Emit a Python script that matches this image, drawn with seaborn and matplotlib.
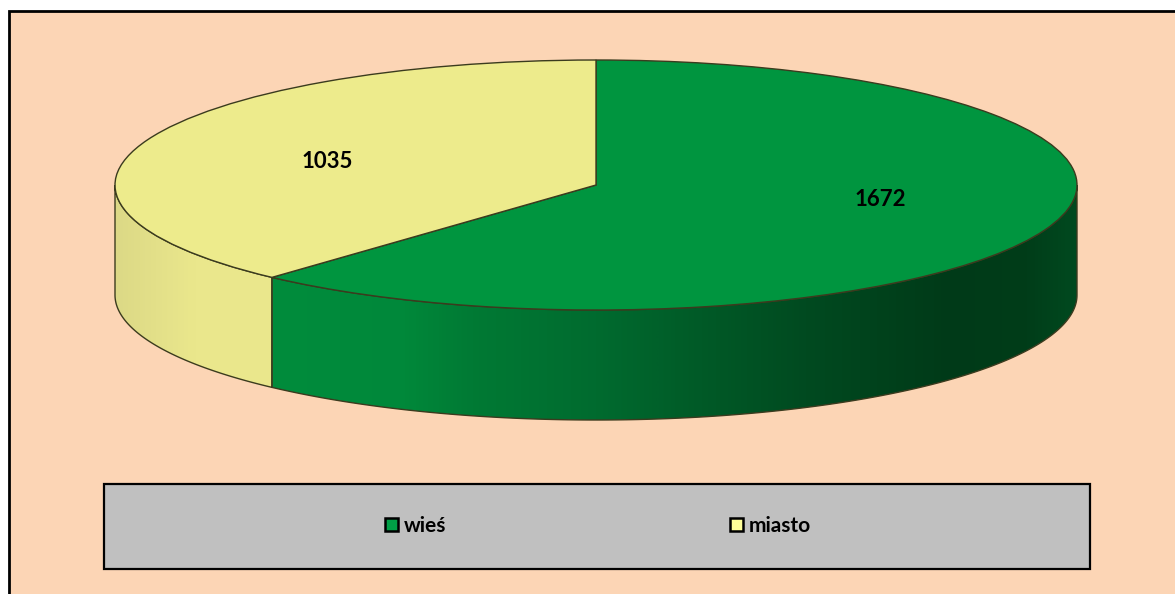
import numpy as np
import matplotlib
matplotlib.use("Agg")
import matplotlib.pyplot as plt
import seaborn as sns
from matplotlib.patches import Rectangle, Polygon, Patch
from matplotlib.colors import LinearSegmentedColormap

# ---- data ----
categories = ["wieś", "miasto"]
values = [1672, 1035]
value_labels = [str(v) for v in values]

# ---- styles ----
top_colors = ["#00953F", "#EDEB8C"]
legend_colors = ["#00A046", "#FFFF99"]
side_stops = [
    [(0.0, "#00A046"), (0.163, "#008C3C"), (0.30, "#00883A"), (0.37, "#007A34"),
     (0.50, "#006B2F"), (0.61, "#005A27"), (0.72, "#004A20"), (0.87, "#003A18"),
     (0.95, "#003D19"), (1.0, "#00491F")],
    [(0.0, "#DCD986"), (0.08, "#EAE78C"), (0.5, "#EEEB8E"), (1.0, "#EEEB8E")],
]
edge = "#3B3B1E"

sns.set_theme(style="white")
plt.rcParams['font.family'] = ['Lato', 'DejaVu Sans']
plt.rcParams['text.color'] = 'black'

W, H = 1175, 594
fig = plt.figure(figsize=(W / 100, H / 100), dpi=100, facecolor="white")

# background panel with black frame (left and top visible)
fig.patches.append(Rectangle((9 / W, -0.05), 1.1, 1 - 11 / H + 0.05,
                             transform=fig.transFigure, facecolor="#FCD5B5",
                             edgecolor="black", linewidth=2, zorder=-3))

# legend box
fig.patches.append(Rectangle((104 / W, 1 - 569 / H), 986 / W, 85 / H,
                             transform=fig.transFigure, facecolor="#C0C0C0",
                             edgecolor="black", linewidth=1.6, zorder=-2))

# pie axes: top ellipse 962x250 px, depth 110 px
rx, ry, depth = 481, 125, 110
d = depth / ry
ax = fig.add_axes([115 / W, (H - 420) / H, 2 * rx / W, (2 * ry + depth) / H])
ax.set_facecolor("none")
ax.set_zorder(1)

wedges, _ = ax.pie(values, colors=top_colors, startangle=90, counterclock=False,
                   radius=1, wedgeprops=dict(edgecolor=edge, linewidth=1.0))
for w in wedges:
    w.set_zorder(3)
    w.set_clip_on(False)
ax.set_aspect("auto")
ax.set_xlim(-1, 1)
ax.set_ylim(-1 - d, 1)
ax.axis("off")

# side walls of front half (angles -180..0)
for w, stops in zip(wedges, side_stops):
    t1, t2 = w.theta1, w.theta2
    for k in (-1, 0, 1):
        a = max(t1 + 360 * k, -180)
        b = min(t2 + 360 * k, 0)
        if b <= a:
            continue
        t = np.radians(np.linspace(a, b, 300))
        xs = np.cos(t)
        ys = np.sin(t)
        verts = np.vstack([np.column_stack([xs, ys]),
                           np.column_stack([xs[::-1], ys[::-1] - d])])
        poly = Polygon(verts, closed=True, facecolor="none", edgecolor=edge,
                       linewidth=1.0, zorder=2, clip_on=False)
        ax.add_patch(poly)
        cmap = LinearSegmentedColormap.from_list("side", stops)
        grad = np.linspace(0, 1, 600).reshape(1, -1)
        im = ax.imshow(grad, cmap=cmap, extent=(-1, 1, -1 - d, 1), aspect="auto",
                       interpolation="bilinear", zorder=1)
        im.set_clip_path(poly)

ax.set_aspect("auto")
ax.set_xlim(-1, 1)
ax.set_ylim(-1 - d, 1)

# value labels
label_pos = [(0.590, -0.12), (-0.559, 0.184)]
for (lx, ly), txt in zip(label_pos, value_labels):
    ax.text(lx, ly, txt, ha="center", va="center", fontsize=16,
            fontweight="bold", color="black", zorder=5)

# legend
handles = [Patch(facecolor=c, edgecolor="black", linewidth=1.8) for c in legend_colors]
leg = fig.legend(handles, categories, loc="center", bbox_to_anchor=(598 / W, 1 - 526 / H),
                 ncol=2, frameon=False, prop=dict(weight="bold", size=15),
                 handlelength=0.62, handleheight=0.62, handletextpad=0.3,
                 columnspacing=13.6)
for t in leg.get_texts():
    t.set_color("black")

fig.savefig("out.png", dpi=100, facecolor="white")
